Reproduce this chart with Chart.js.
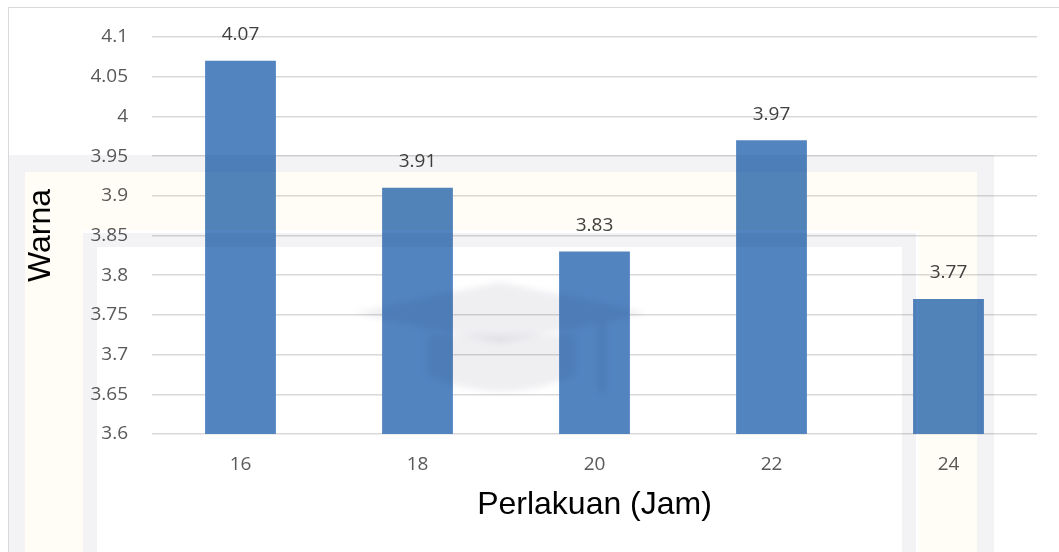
<!DOCTYPE html>
<html>
<head>
<meta charset="utf-8">
<script src="https://cdn.jsdelivr.net/npm/chart.js@4/dist/chart.umd.min.js"></script>
<style>
  html, body { margin: 0; padding: 0; background: #ffffff; }
  #wrap { width: 1059px; height: 552px; position: relative; }
</style>
</head>
<body>
<div id="wrap"><canvas id="chart" width="1059" height="552"></canvas></div>
<script>
// Treatment durations (hours) and mean colour score
const categories = ['16', '18', '20', '22', '24'];
const warnaValues = [4.07, 3.91, 3.83, 3.97, 3.77];

// Y axis ticks
const yTickValues = [3.6, 3.65, 3.7, 3.75, 3.8, 3.85, 3.9, 3.95, 4.0, 4.05, 4.1];
const yTickLabels = ['3.6', '3.65', '3.7', '3.75', '3.8', '3.85', '3.9', '3.95', '4', '4.05', '4.1'];

const xTitle = 'Perlakuan (Jam)';
const yTitle = 'Warna';

const tickFont = { family: '"Open Sans", Lato, sans-serif', size: 19 };
const titleFont = { family: '"Liberation Sans", Arial, sans-serif', size: 32 };

// Value labels above each bar
const valueLabels = {
  id: 'valueLabels',
  afterDatasetsDraw(chart) {
    const ctx = chart.ctx;
    const meta = chart.getDatasetMeta(0);
    ctx.save();
    ctx.font = `${tickFont.size}px ${tickFont.family}`;
    ctx.fillStyle = '#404040';
    ctx.textAlign = 'center';
    ctx.textBaseline = 'middle';
    meta.data.forEach((bar, i) => {
      ctx.fillText(warnaValues[i].toFixed(2), bar.x, bar.y - 26);
    });
    ctx.restore();
  }
};

// Faint background emblem and frame, blended over the finished chart
const backdrop = {
  id: 'backdrop',
  afterDraw(chart) {
    const ctx = chart.ctx;
    ctx.save();
    ctx.globalCompositeOperation = 'multiply';
    const H = chart.height + 10;
    function frame(x0, y0, x1, y1, w, color) {
      ctx.fillStyle = color;
      ctx.fillRect(x0, y0, x1 - x0, w);          // top
      ctx.fillRect(x0, y0 + w, w, H - y0 - w);   // left
      ctx.fillRect(x1 - w, y0 + w, w, H - y0 - w); // right
    }
    frame(8, 155, 994, H, 17, '#f3f3f5');
    frame(25, 172, 977, H, 58, '#fffdf5');
    frame(83, 233, 916, H, 14, '#f3f3f5');

    // mortarboard emblem
    ctx.filter = 'blur(3px)';
    ctx.fillStyle = '#efeff2';
    ctx.beginPath();
    ctx.moveTo(355, 313);
    ctx.lineTo(500, 282);
    ctx.lineTo(647, 313);
    ctx.lineTo(500, 343);
    ctx.closePath();
    ctx.fill();
    ctx.beginPath();
    ctx.moveTo(428, 335);
    ctx.lineTo(575, 335);
    ctx.lineTo(575, 375);
    ctx.quadraticCurveTo(500, 408, 428, 375);
    ctx.closePath();
    ctx.fill();
    ctx.fillRect(598, 322, 8, 70);
    ctx.restore();

    // outer chart border
    ctx.save();
    ctx.strokeStyle = '#d9d9d9';
    ctx.lineWidth = 1;
    ctx.strokeRect(8.5, 7.5, 1200, 700);
    ctx.restore();
  }
};

new Chart(document.getElementById('chart'), {
  type: 'bar',
  data: {
    labels: categories,
    datasets: [{
      label: yTitle,
      data: warnaValues,
      backgroundColor: '#5284c0',
      borderWidth: 0,
      barPercentage: 0.4,
      categoryPercentage: 1.0
    }]
  },
  options: {
    responsive: false,
    animation: false,
    layout: { padding: { left: 0, top: 37, right: 22, bottom: 0 } },
    plugins: {
      legend: { display: false },
      tooltip: { enabled: false }
    },
    scales: {
      x: {
        offset: true,
        grid: { display: false, drawTicks: false },
        border: { display: false },
        ticks: { color: '#595959', font: tickFont, padding: 19 },
        title: {
          display: true,
          text: xTitle,
          color: '#000000',
          font: titleFont,
          padding: { top: 0, bottom: 28 }
        },
        afterFit(scale) { scale.height = 118; }
      },
      y: {
        min: 3.6,
        max: 4.1,
        grid: { color: '#d9d9d9', lineWidth: 1.5, drawTicks: false },
        border: { display: false },
        afterBuildTicks(scale) {
          scale.ticks = yTickValues.map(v => ({ value: v }));
        },
        ticks: {
          color: '#595959',
          font: tickFont,
          padding: 24,
          callback: (v, i) => yTickLabels[i]
        },
        title: {
          display: true,
          text: yTitle,
          color: '#000000',
          font: titleFont,
          padding: { top: 22, bottom: 0 }
        },
        afterFit(scale) { scale.width = 152; }
      }
    }
  },
  plugins: [valueLabels, backdrop]
});
</script>
</body>
</html>
